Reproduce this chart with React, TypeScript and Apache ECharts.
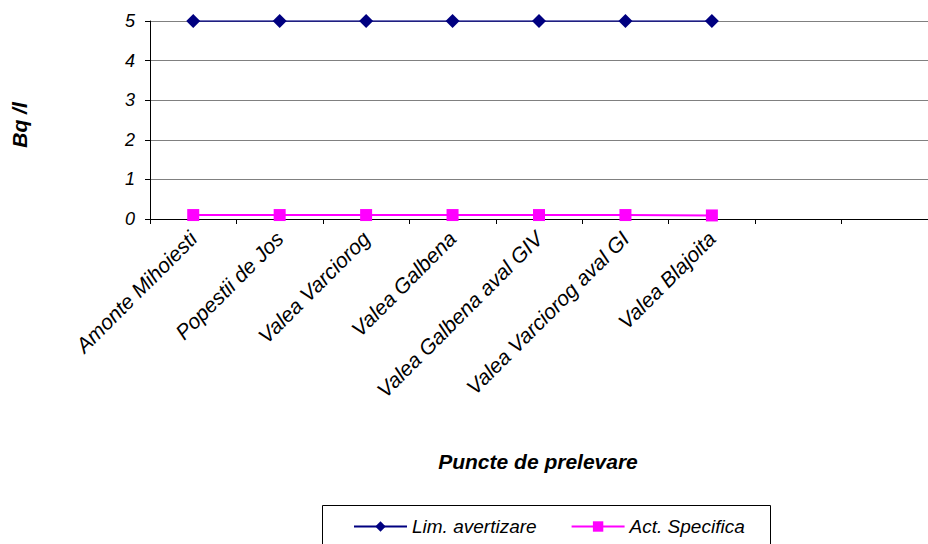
import React, { useEffect, useRef } from "react";
import * as echarts from "echarts";

const categories = [
  "Amonte Mihoiesti",
  "Popestii de Jos",
  "Valea Varciorog",
  "Valea Galbena",
  "Valea Galbena aval GIV",
  "Valea Varciorog aval GI",
  "Valea Blajoita",
  "",
  "",
];
const limAvertizare = [5, 5, 5, 5, 5, 5, 5];
const actSpecifica = [0.1, 0.1, 0.1, 0.1, 0.1, 0.1, 0.09];
const yTicks = { min: 0, max: 5, interval: 1 };

const FONT = "'Liberation Sans', Arial, sans-serif";

export default function App() {
  const ref = useRef<HTMLDivElement>(null);

  useEffect(() => {
    if (!ref.current) return;
    const chart = echarts.init(ref.current, undefined, { renderer: "svg" });
    chart.setOption({
      animation: false,
      backgroundColor: "#ffffff",
      textStyle: { fontFamily: FONT },
      grid: { left: 150, top: 21, right: -10, bottom: 325, containLabel: false },
      xAxis: {
        type: "category",
        data: categories,
        boundaryGap: true,
        axisLine: { lineStyle: { color: "#000", width: 1 } },
        axisTick: { show: true, alignWithLabel: false, length: 5, lineStyle: { color: "#000" } },
        axisLabel: {
          rotate: 45,
          interval: 0,
          margin: 16,
          fontFamily: FONT,
          fontStyle: "italic",
          fontSize: 21,
          color: "#000",
        },
        splitLine: { show: false },
      },
      yAxis: {
        type: "value",
        min: yTicks.min,
        max: yTicks.max,
        interval: yTicks.interval,
        axisLine: { show: true, lineStyle: { color: "#000", width: 1 } },
        axisTick: { show: true, length: 5, lineStyle: { color: "#000" } },
        axisLabel: {
          margin: 15,
          fontFamily: FONT,
          fontStyle: "italic",
          fontSize: 18,
          color: "#000",
        },
        splitLine: { show: true, lineStyle: { color: "#808080", width: 1 } },
      },
      legend: {
        show: true,
        left: 353,
        top: 517,
        padding: 0,
        itemWidth: 53,
        itemHeight: 13,
        itemGap: 34,
        textStyle: { fontFamily: FONT, fontStyle: "italic", fontSize: 19, color: "#000" },
        data: ["Lim. avertizare", "Act. Specifica"],
      },
      graphic: [
        {
          type: "rect",
          shape: { x: 322.5, y: 505.5, width: 448, height: 60 },
          style: { fill: "none", stroke: "#000", lineWidth: 1 },
          silent: true,
          z: -1,
        },
        {
          type: "text",
          x: 19,
          y: 125,
          rotation: Math.PI / 2,
          style: {
            text: "Bq /l",
            font: `italic bold 21px ${FONT}`,
            fill: "#000",
            align: "center",
            verticalAlign: "middle",
          },
        },
        {
          type: "text",
          x: 538,
          y: 461,
          style: {
            text: "Puncte de prelevare",
            font: `italic bold 21px ${FONT}`,
            fill: "#000",
            align: "center",
            verticalAlign: "middle",
          },
        },
      ],
      series: [
        {
          name: "Lim. avertizare",
          type: "line",
          data: limAvertizare,
          symbol: "diamond",
          symbolSize: 14,
          lineStyle: { color: "#000080", width: 1.5 },
          itemStyle: { color: "#000080" },
        },
        {
          name: "Act. Specifica",
          type: "line",
          data: actSpecifica,
          symbol: "rect",
          symbolSize: 12,
          lineStyle: { color: "#ff00ff", width: 2 },
          itemStyle: { color: "#ff00ff" },
        },
      ],
    });
    return () => chart.dispose();
  }, []);

  return <div ref={ref} style={{ width: 928, height: 544, position: "absolute", left: 0, top: 0 }} />;
}
